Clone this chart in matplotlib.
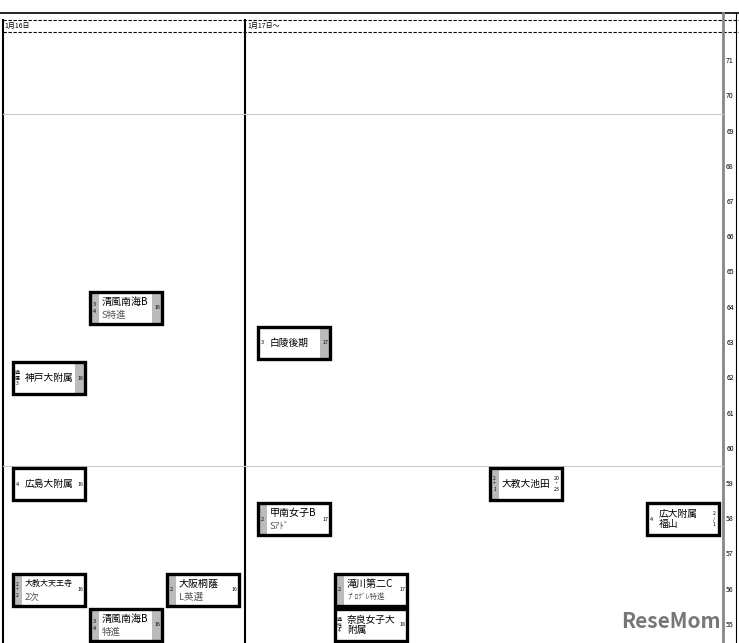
import matplotlib
matplotlib.use("Agg")
import matplotlib.pyplot as plt
from matplotlib.patches import Rectangle

plt.rcParams['font.family'] = ['Noto Sans CJK JP', 'DejaVu Sans']

names = ["清風南海B", "神戸大附属", "白陵後期", "広島大附属", "大教大池田", "甲南女子B",
         "広大附属\n福山", "大教大天王寺", "大阪桐蔭", "滝川第二C", "清風南海B", "奈良女子大\n附属"]
subs = ["S特進", "", "", "", "", "Sｱﾄﾞ", "", "2次", "L英選", "ﾌﾟﾛｸﾞﾚ特進", "特進", ""]
xpos = [90, 13, 258, 13, 490, 258, 647, 13, 167, 335, 90, 335]
values = [64, 62, 63, 59, 59, 58, 58, 56, 56, 56, 55, 55]
left_notes = ["3\n4", "適\n選\n3", "3", "4", "2\n+\n1", "2", "4", "2\n+\n2", "2", "2", "3\n4", "適\n性\n4"]
right_notes = ["16", "16", "17", "16", "20\n・\n23", "17", "2\n/\n1", "16", "16", "17", "16", "18"]
gray_left = [True, False, False, False, True, True, False, True, True, True, True, False]
gray_right = [True, True, True, False, False, False, False, False, False, False, True, False]
yticks = list(range(55, 72))
headers = ["1月16日", "1月17日～"]

fig = plt.figure(figsize=(7.39, 6.43), dpi=100)
ax = fig.add_axes([0, 0, 1, 1])
ax.set_xlim(0, 739)
def v(py):
    return 71 - (py - 61) / 35.25
ax.set_ylim(v(643), v(0))
ax.axis('off')

ax.plot([0, 739], [v(13), v(13)], color='black', lw=1.2)
for py in (20, 32):
    ax.plot([3, 739], [v(py), v(py)], color='black', lw=0.8, ls=(0, (3, 1.5)))
ax.text(4, v(26), headers[0], fontsize=5, va='center', ha='left')
ax.text(247, v(26), headers[1], fontsize=5, va='center', ha='left')
for px in (3, 245):
    ax.plot([px, px], [v(20), v(643)], color='black', lw=1.5)
ax.plot([723, 723], [v(13), v(643)], color='#888888', lw=2)
ax.plot([736, 736], [v(13), v(643)], color='black', lw=0.8)
for val in (69.5, 59.5):
    ax.plot([3, 723], [val, val], color='#cccccc', lw=0.8)
for t in yticks:
    ax.text(730, t, str(t), fontsize=5, ha='center', va='center')

W = 72
H = 0.9
for i in range(len(names)):
    x0 = xpos[i]; c = values[i]
    if gray_left[i]:
        ax.add_patch(Rectangle((x0, c - H/2), 9, H, fc='#bbbbbb', ec='none', zorder=2))
    if gray_right[i]:
        ax.add_patch(Rectangle((x0 + W - 10, c - H/2), 10, H, fc='#bbbbbb', ec='none', zorder=2))
    ax.add_patch(Rectangle((x0, c - H/2), W, H, fc='none', ec='black', lw=2.4, zorder=3))
    nlines = left_notes[i].count("\n") + 1
    ax.text(x0 + 4.5, c, left_notes[i], fontsize=4 if nlines < 3 else 3.5, ha='center', va='center',
            linespacing=1.1 if nlines == 3 else 1.4, zorder=4)
    ax.text(x0 + W - 5, c, right_notes[i], fontsize=3.8, ha='center', va='center', linespacing=1.1, zorder=4)
    if subs[i]:
        ax.text(x0 + 12, c + 0.17, names[i], fontsize=7.2 if len(names[i]) < 6 else 5.8,
                ha='left', va='center', zorder=4)
        ax.text(x0 + 12, c - 0.21, subs[i], fontsize=6.8 if len(subs[i]) < 5 else 5.4,
                ha='left', va='center', color='#555555', zorder=4)
    else:
        ax.text(x0 + 12, c, names[i], fontsize=7.0, ha='left', va='center', zorder=4, linespacing=1.05)

ax.text(721, v(621), "ReseMom", fontsize=15, fontweight='bold', color='#777777', ha='right', va='center', zorder=5)

fig.savefig("out.png", dpi=100)
